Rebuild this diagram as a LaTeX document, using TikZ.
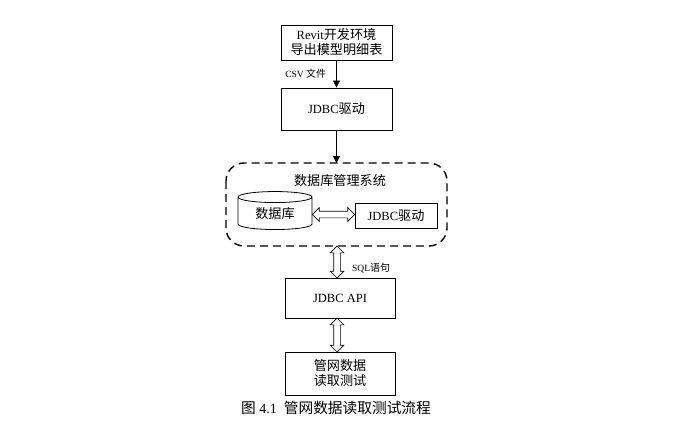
\documentclass[tikz,border=0pt]{standalone}
\usepackage{fontspec}
\setmainfont{Liberation Serif}
\newfontfamily\cjk{Noto Sans CJK SC}[Scale=1.05]
\usetikzlibrary{shapes.arrows,shapes.geometric,arrows.meta,calc}
\begin{document}
\begin{tikzpicture}[x=1pt,y=-1pt,
  boxnode/.style={draw,line width=0.9pt,inner sep=0pt,align=center,font=\fontsize{12.5}{15}\selectfont},
  hollowarrow/.style={shape=double arrow,draw,line width=0.7pt,inner xsep=0pt,inner ysep=3pt,
     double arrow head extend=3.5pt,double arrow tip angle=90},
  lbl/.style={font=\fontsize{9.5}{10}\selectfont,inner sep=0pt}]
\useasboundingbox (0,0) rectangle (676,420);
\node[boxnode,minimum width=111pt,minimum height=35pt] (revit) at (336.5,42.5)
  {Revit{\cjk 开发环境}\\{\cjk 导出模型明细表}};
\node[boxnode,minimum width=111pt,minimum height=42pt] (jdbc1) at (336.5,109) {JDBC{\cjk 驱动}};
\draw[line width=0.8pt,-{Triangle[length=7pt,width=7pt]}] (revit.south) -- (jdbc1.north)
  node[lbl,midway,left=10pt] {CSV {\cjk 文件}};
\draw[line width=1.4pt,dash pattern=on 8pt off 5pt,rounded corners=18pt] (226,163) rectangle (447,246);
\coordinate (dbtop) at (336.5,163);
\coordinate (dbbot) at (336.5,246);
\draw[line width=0.8pt,-{Triangle[length=7pt,width=7pt]}] (jdbc1.south) -- (dbtop);
\node[font=\fontsize{12.5}{14}\selectfont,inner sep=0pt] (dbms) at (340,181) {\cjk 数据库管理系统};
\node[shape=cylinder,shape border rotate=90,draw,line width=0.8pt,aspect=0.28,
  minimum width=74pt,minimum height=38pt,inner sep=0pt,font=\fontsize{12.5}{14}\selectfont] (db) at (275,213.5) {\cjk 数据库};
\node[boxnode,minimum width=82pt,minimum height=25pt] (jdbc2) at (396,215.5) {JDBC{\cjk 驱动}};
\path let \p1=($(jdbc2.west)-(db.east)$) in
  node[hollowarrow,minimum height={\x1}] (ha1) at ($(db.east)!0.5!(jdbc2.west)$) {};
\node[boxnode,minimum width=110pt,minimum height=40pt] (api) at (340,298) {JDBC API};
\node[boxnode,minimum width=110pt,minimum height=43pt] (test) at (340,373.5) {{\cjk 管网数据}\\{\cjk 读取测试}};
\path node[hollowarrow,rotate=90,minimum height=32pt] (ha2) at (337,262) {};
\path node[hollowarrow,rotate=90,minimum height=34pt] (ha3) at (337,335) {};
\node[lbl,anchor=west] (sql) at (352,268) {SQL{\cjk 语句}};
\node[font=\fontsize{14}{14}\selectfont,inner sep=0pt] (cap) at (336,408) {{\cjk 图} 4.1\ \ {\cjk 管网数据读取测试流程}};
\end{tikzpicture}
\end{document}
